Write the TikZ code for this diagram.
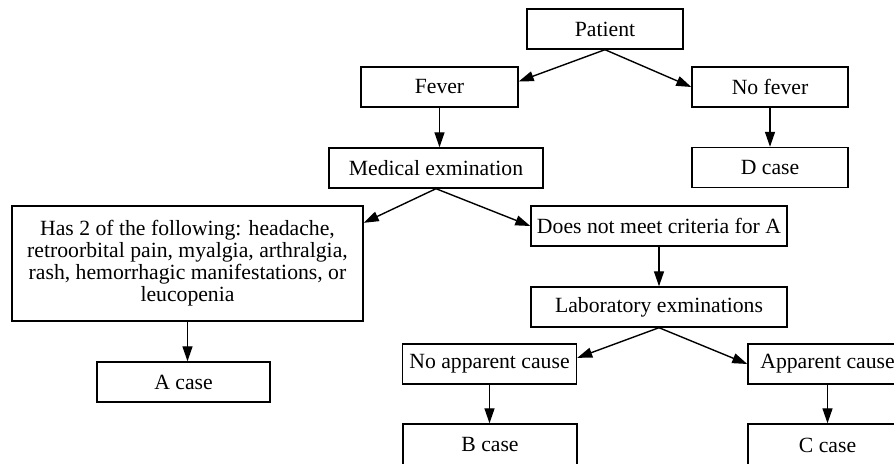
\documentclass[tikz,border=0pt]{standalone}
\usepackage{fontspec}
\setmainfont{Liberation Serif}
\usepackage{tikz}
\usetikzlibrary{
  positioning,
  arrows.meta
}

\begin{document}
\begin{tikzpicture}[
  x=0.5pt, y=-0.5pt,
  cbox/.style={draw, line width=0.7pt, inner sep=0pt, minimum height=20pt, align=center, font=\fontsize{10.85}{11}\selectfont},
  arr/.style={line width=0.7pt, -{Triangle[length=7.5pt, width=5pt]}},
]
\useasboundingbox (0,0) rectangle (894,464);
\clip (0,0) rectangle (894,464);

% Nivel 1
\node[cbox, minimum width=78pt] (patient) at (605,29) {Patient};

% Nivel 2
\node[cbox, minimum width=78.5pt] (fever) at (439.5,87) {Fever};
\node[cbox, minimum width=78pt] (nofever) at (770,87) {No fever};

% Nivel 3
\node[cbox, minimum width=107pt] (med) at (436,168) {Medical exmination};
\node[cbox, minimum width=78pt] (dcase) at (770,167.5) {D case};

% Nivel 4
\node[cbox, minimum width=175.5pt, minimum height=57.5pt] (has) at (187.5,263.5) {Has 2 of the following: headache,\\ retroorbital pain, myalgia, arthralgia,\\ rash, hemorrhagic manifestations, or\\ leucopenia};
\node[cbox, minimum width=128pt] (dnm) at (659,226) {Does not meet criteria for A};
\node[cbox, minimum width=128pt] (lab) at (659,307) {Laboratory exminations};

% Nivel 5
\node[cbox, minimum width=86.5pt] (acase) at (183.5,382) {A case};
\node[cbox, minimum width=87pt] (noapp) at (489.5,364) {No apparent cause};
\node[cbox, minimum width=79.5pt] (app) at (827.5,364) {Apparent cause};

% Nivel 6
\node[cbox, minimum width=87pt, minimum height=21pt] (bcase) at (490,445) {B case};
\node[cbox, minimum width=79.5pt, minimum height=21pt] (ccase) at (827.5,445) {C case};

% Flechas
\draw[arr] (patient.south) -- (fever.4);
\draw[arr] (patient.south) -- (nofever.west);
\draw[arr] (fever.south) -- (fever.south |- med.north);
\draw[arr] (nofever.south) -- (nofever.south |- dcase.north);
\draw[arr] (med.south) -- (has.13.6);
\draw[arr] (med.south) -- (dnm.west);
\draw[arr] (has.south) -- (has.south |- acase.north);
\draw[arr] (dnm.south) -- (dnm.south |- lab.north);
\draw[arr] (lab.south) -- (noapp.4);
\draw[arr] (lab.south) -- (app.west);
\draw[arr] (noapp.south) -- (noapp.south |- bcase.north);
\draw[arr] (app.south) -- (app.south |- ccase.north);

\end{tikzpicture}
\end{document}
